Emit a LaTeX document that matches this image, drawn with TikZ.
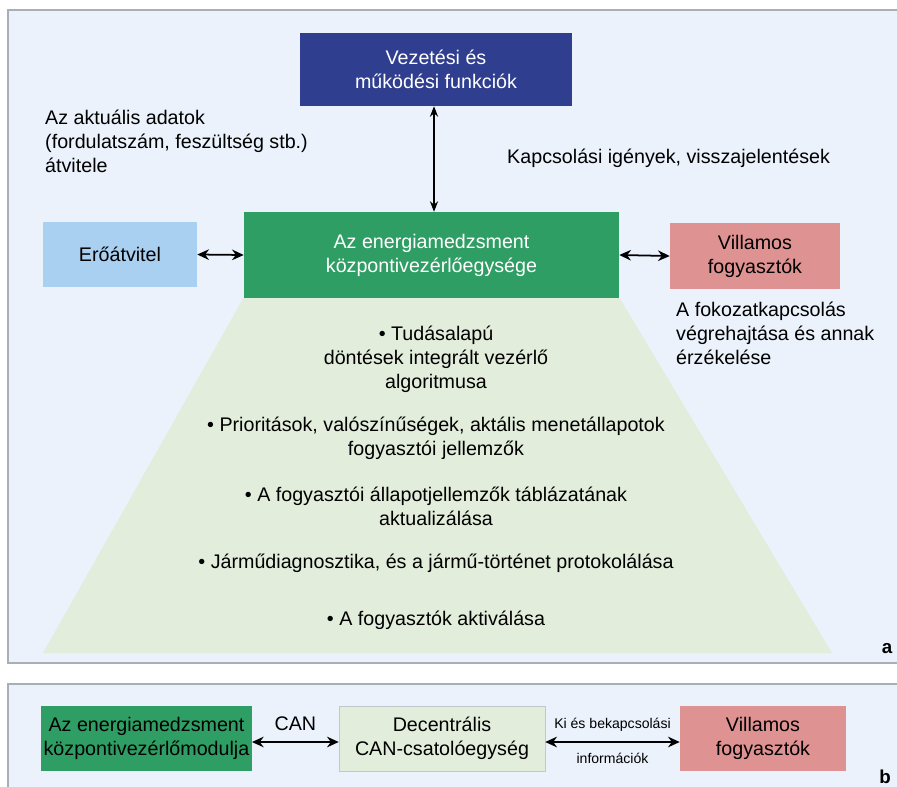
\documentclass[tikz,border=0pt]{standalone}
\usepackage{fontspec}
\setmainfont{Liberation Sans}
\usetikzlibrary{arrows.meta}

\definecolor{panelbg}{HTML}{EBF2FC}
\definecolor{panelrule}{HTML}{A9AFB6}
\definecolor{navyblue}{HTML}{2F3E8F}
\definecolor{emsgreen}{HTML}{2F9E64}
\definecolor{skyblue}{HTML}{AAD0F1}
\definecolor{salmon}{HTML}{DF9292}
\definecolor{palegreen}{HTML}{E3EDDC}

\tikzset{
  unit/.style={inner sep=2pt, align=center, font=\fontsize{16.8}{20.4}\selectfont},
  label/.style={inner sep=0pt, font=\fontsize{16.8}{20.4}\selectfont},
  link/.style={{Stealth[length=10pt,width=9pt]}-{Stealth[length=10pt,width=9pt]}, line width=1.5pt},
}

\begin{document}
\begin{tikzpicture}[x=0.03cm,y=-0.03cm]
\useasboundingbox (0,0) rectangle (897,787);

% panels
\draw[fill=panelbg,draw=panelrule,line width=1pt] (8,10) rectangle (910,663);
\draw[fill=panelbg,draw=panelrule,line width=1pt] (8,684) rectangle (910,800);

% panel a
\fill[palegreen] (244,297) -- (619,297) -- (832,653) -- (43,653) -- cycle;

\node[unit,fill=navyblue,text=white,minimum width=8.16cm,minimum height=2.19cm] (vez) at (436,69.5) {Vezetési és\\működési funkciók};
\node[unit,fill=emsgreen,text=white,minimum width=11.25cm,minimum height=2.58cm] (ems) at (431.5,255) {Az energiamedzsment\\központivezérlőegysége};
\node[unit,fill=skyblue,minimum width=4.62cm,minimum height=1.95cm] (ero) at (120,254.5) {Erőátvitel};
\node[unit,fill=salmon,minimum width=5.1cm,minimum height=1.98cm] (vill) at (755,256) {Villamos\\fogyasztók};

\draw[{Stealth[length=9pt,width=7pt]}-{Stealth[length=9pt,width=7pt]},line width=0.9pt] (vez.south -| 434,0) -- (ems.north -| 434,0);
\draw[link] (ero.east) -- (ems.west);
\draw[link] (ems.east) -- (vill.west);

% multi-line texts: base is the last line
\node[label,align=left,anchor=base west] (adatok) at (45,172) {Az aktuális adatok\\(fordulatszám, feszültség stb.)\\átvitele};
\node[label,anchor=base west] (igeny) at (507,163) {Kapcsolási igények, visszajelentések};
\node[label,align=left,anchor=base west] (fokozat) at (676,364) {A fokozatkapcsolás\\végrehajtása és annak\\érzékelése};

\node[label,align=center,anchor=base] (tudas) at (436,388) {• Tudásalapú\\döntések integrált vezérlő\\algoritmusa};
\node[label,align=center,anchor=base] (prior) at (436,455) {• Prioritások, valószínűségek, aktális menetállapotok\\fogyasztói jellemzők};
\node[label,align=center,anchor=base] (tabla) at (436,525) {• A fogyasztói állapotjellemzők táblázatának\\aktualizálása};
\node[label,anchor=base] (diag) at (436,568) {• Járműdiagnosztika, és a jármű-történet protokolálása};
\node[label,anchor=base] (aktiv) at (436,625) {• A fogyasztók aktiválása};

\node[label,font=\fontsize{16}{20}\selectfont\bfseries,anchor=base] (tagA) at (887,653) {a};

% panel b
\node[unit,fill=emsgreen,minimum width=6.15cm,minimum height=1.95cm] (modul) at (146.5,738.5) {Az energiamedzsment\\központivezérlőmodulja};
\node[unit,fill=palegreen,draw=panelrule!70,minimum width=6.18cm,minimum height=1.95cm] (dec) at (442,738.5) {Decentrális\\CAN-csatolóegység};
\node[unit,fill=salmon,minimum width=4.98cm,minimum height=1.95cm] (vill2) at (763,738.5) {Villamos\\fogyasztók};

\draw[link] (modul.east |- 0,742) -- node[label,above=9pt] {CAN} (dec.west |- 0,742);
\draw[link] (dec.east |- 0,742) -- node[label,font=\fontsize{12}{14}\selectfont,above=8pt] {Ki és bekapcsolási}
  node[label,font=\fontsize{12}{14}\selectfont,below=9pt] {információk} (vill2.west |- 0,742);

\node[label,font=\fontsize{16}{20}\selectfont\bfseries,anchor=base] (tagB) at (885,783) {b};

\end{tikzpicture}
\end{document}
